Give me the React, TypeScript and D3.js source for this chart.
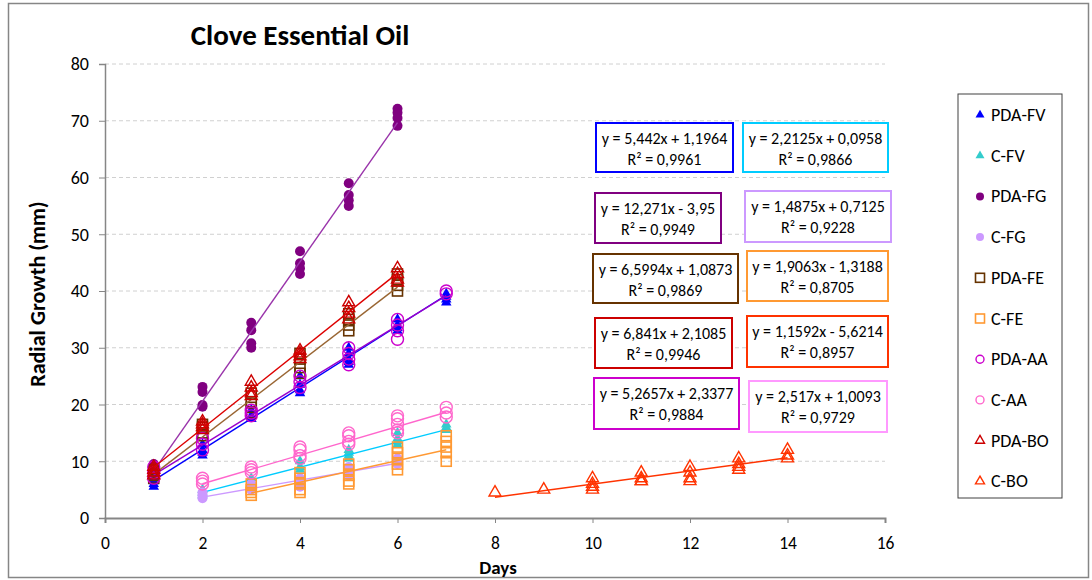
import React, { useRef, useEffect } from 'react';
import * as d3 from 'd3';

// series, in legend order
const seriesNames = ['PDA-FV', 'C-FV', 'PDA-FG', 'C-FG', 'PDA-FE', 'C-FE', 'PDA-AA', 'C-AA', 'PDA-BO', 'C-BO'];
const firstDays = [1, 2, 1, 2, 1, 3, 1, 2, 1, 8];

// replicate readings (mm) for each day, starting at firstDays
const pdaFv = [[5.5, 6, 6.5, 7], [11, 11.5, 12, 13], [17.5, 17.5, 18, 19], [22, 22.5, 23.5, 25], [27, 27.5, 28, 29, 30], [33, 33.5, 34, 35], [38, 38.5, 39, 39.5]];
const cFv = [[4, 4.5, 5], [6, 6.5, 7], [8.5, 9, 10], [10.5, 11, 11.5, 12], [13, 13.5, 14, 15], [15.5, 16, 16.5]];
const pdaFg = [[7.5, 8.5, 9, 9.5], [19.6, 19.9, 22.2, 23.1], [30, 30.8, 33.1, 34.4], [43, 44, 44.9, 47], [55, 56, 56.9, 59], [69.1, 70.5, 71.4, 72.1]];
const cFg = [[3.5, 4, 4.5], [5, 5.5, 6], [5.5, 6.5, 7], [7.5, 8, 9], [9.5, 10.5]];
const pdaFe = [[7, 7.5, 8, 8.5], [14.5, 15, 16, 16.5], [18.5, 19.5, 20.5, 22], [25.5, 26.5, 28, 29], [33, 34, 35, 36], [40, 41, 42, 43]];
const cFe = [[4, 4.5, 5, 6], [4.5, 5, 6, 7, 8], [6, 6.5, 7.5, 8.5, 9.5], [8.5, 9.5, 10.5, 11.5, 12.5], [10, 11.5, 12.5, 13.5, 14.5]];
const pdaAa = [[7, 8, 9], [12, 13, 14], [18, 18.5, 19], [23, 24, 25], [27, 28, 29, 30], [31.5, 33, 34, 35], [39.5, 40]];
const cAa = [[6, 6.5, 7], [8, 8.5, 9], [10.5, 11, 12, 12.5], [13, 13.5, 14.5, 15], [15, 15.5, 16.5, 17.5, 18], [17.8, 18.5, 19.5]];
const pdaBo = [[7.5, 8, 8.5, 9], [15.5, 16, 16.5, 17], [21.5, 22, 23, 24], [28, 28.5, 29, 29.5], [35, 36, 37, 38], [41.5, 42, 43, 44]];
const cBo = [[4.5], [5], [5, 5.5, 6, 7], [6.5, 6.5, 7, 8], [6.5, 7, 8, 9], [8.5, 9, 9.5, 10.5], [10.5, 11, 12]];
const seriesValues = [pdaFv, cFv, pdaFg, cFg, pdaFe, cFe, pdaAa, cAa, pdaBo, cBo];

// trendline equations as printed on the chart
const slopes = [5.442, 2.2125, 12.271, 1.4875, 6.5994, 1.9063, 5.2657, 2.517, 6.841, 1.1592];
const intercepts = [1.1964, 0.0958, -3.95, 0.7125, 1.0873, -1.3188, 2.3377, 1.0093, 2.1085, -5.6214];
const rSquared = ['0,9961', '0,9866', '0,9949', '0,9228', '0,9869', '0,8705', '0,9884', '0,9729', '0,9946', '0,8957'];

const xTicks = [0, 2, 4, 6, 8, 10, 12, 14, 16];
const yTicks = [0, 10, 20, 30, 40, 50, 60, 70, 80];

// marker / line / label-box styles per series
const styles = [
  { shape: 'triangle', filled: true, color: '#0000FF', line: '#0000FF', box: '#0000FF', size: 10.5 },
  { shape: 'triangle', filled: true, color: '#33CCCC', line: '#00CCFF', box: '#00CCFF', size: 10.5 },
  { shape: 'circle', filled: true, color: '#800080', line: '#9933AA', box: '#800080', size: 5 },
  { shape: 'circle', filled: true, color: '#CC99FF', line: '#CC99FF', box: '#CC99FF', size: 5 },
  { shape: 'square', filled: false, color: '#663300', line: '#996633', box: '#663300', size: 10 },
  { shape: 'square', filled: false, color: '#FF9933', line: '#FF9933', box: '#FF9933', size: 10 },
  { shape: 'circle', filled: false, color: '#CC00CC', line: '#9900CC', box: '#CC00CC', size: 6 },
  { shape: 'circle', filled: false, color: '#FF66CC', line: '#FF66CC', box: '#FF99FF', size: 6 },
  { shape: 'triangle', filled: false, color: '#CC0000', line: '#DD0000', box: '#CC0000', size: 12 },
  { shape: 'triangle', filled: false, color: '#FF3300', line: '#FF3300', box: '#FF3300', size: 12 },
];

// equation box placement [left, top, width, height]
const boxes = [
  [596, 123, 137, 49], [743, 123, 145, 49],
  [595, 193, 126, 50], [745, 191, 146, 51],
  [593, 254, 145, 49], [747, 251, 141, 50],
  [594, 378, 145, 51], [749, 381, 138, 51],
  [595, 318, 137, 50], [747, 316, 141, 51],
];

const FONT = "Carlito, Lato, 'Open Sans', sans-serif";

const fmt = (v: number) => String(Math.abs(v)).replace('.', ',');

const drawMarker = (g: any, shape: string, filled: boolean, color: string, size: number, cx: number, cy: number) => {
  if (shape === 'circle') {
    g.append('circle')
      .attr('cx', cx).attr('cy', cy).attr('r', size)
      .attr('fill', filled ? color : 'none')
      .attr('stroke', color).attr('stroke-width', filled ? 0 : 1.4);
  } else if (shape === 'square') {
    g.append('rect')
      .attr('x', cx - size / 2).attr('y', cy - size / 2)
      .attr('width', size).attr('height', size)
      .attr('fill', 'none').attr('stroke', color).attr('stroke-width', 1.6);
  } else {
    const area = (Math.sqrt(3) / 4) * size * size;
    g.append('path')
      .attr('transform', `translate(${cx},${cy})`)
      .attr('d', d3.symbol(d3.symbolTriangle, area)())
      .attr('fill', filled ? color : 'none')
      .attr('stroke', color).attr('stroke-width', filled ? 0 : 1.4);
  }
};

const App = () => {
  const svgRef = useRef<SVGSVGElement>(null);

  useEffect(() => {
    document.body.style.margin = '0';
    if (!svgRef.current) return;
    const svg = d3.select(svgRef.current);
    svg.selectAll('*').remove();

    const x = d3.scaleLinear().domain([0, 16]).range([105, 885]);
    const y = d3.scaleLinear().domain([0, 80]).range([518, 64]);

    // outer frame
    svg.append('rect')
      .attr('x', 8.5).attr('y', 3.5).attr('width', 1080).attr('height', 574)
      .attr('fill', 'white').attr('stroke', '#868686').attr('stroke-width', 1.5);

    // title
    svg.append('text')
      .attr('x', 300).attr('y', 45)
      .attr('text-anchor', 'middle')
      .attr('font-family', FONT).attr('font-weight', 'bold').attr('font-size', 29)
      .text('Clove Essential Oil');

    // grid lines
    svg.append('g')
      .selectAll('line')
      .data(yTicks.filter(t => t > 0))
      .enter()
      .append('line')
      .attr('x1', x(0)).attr('x2', x(16))
      .attr('y1', d => y(d)).attr('y2', d => y(d))
      .attr('stroke', '#d0d0d0').attr('stroke-dasharray', '4,3');

    // y axis
    const yAxis = svg.append('g')
      .attr('transform', `translate(${x(0)},0)`)
      .call(d3.axisLeft(y).tickValues(yTicks).tickSize(6).tickPadding(10));
    yAxis.select('.domain').attr('stroke', '#868686').attr('stroke-width', 1.5);
    yAxis.selectAll('line').attr('stroke', '#868686');
    yAxis.selectAll('text')
      .attr('font-family', FONT).attr('font-size', 18).attr('fill', '#000');

    // x axis
    const xAxis = svg.append('g')
      .attr('transform', `translate(0,${y(0)})`)
      .call(d3.axisBottom(x).tickValues(xTicks).tickSize(5).tickPadding(14));
    xAxis.select('.domain').attr('stroke', '#868686').attr('stroke-width', 2);
    xAxis.selectAll('line').attr('stroke', '#868686');
    xAxis.selectAll('text')
      .attr('font-family', FONT).attr('font-size', 17.5).attr('fill', '#000');

    // axis titles
    svg.append('text')
      .attr('transform', 'translate(45,294) rotate(-90)')
      .attr('text-anchor', 'middle')
      .attr('font-family', FONT).attr('font-weight', 'bold').attr('font-size', 22)
      .text('Radial Growth (mm)');
    svg.append('text')
      .attr('x', 498).attr('y', 574)
      .attr('text-anchor', 'middle')
      .attr('font-family', FONT).attr('font-weight', 'bold').attr('font-size', 19)
      .text('Days');

    // series: markers then trendline
    seriesValues.forEach((days, i) => {
      const st = styles[i];
      const g = svg.append('g');
      days.forEach((reps, j) => {
        const day = firstDays[i] + j;
        reps.forEach(v => drawMarker(g, st.shape, st.filled, st.color, st.size, x(day), y(v)));
      });
      const x0 = firstDays[i];
      const x1 = firstDays[i] + days.length - 1;
      const line = d3.line<number>()
        .x(d => x(d))
        .y(d => y(slopes[i] * d + intercepts[i]));
      g.append('path')
        .datum([x0, x1])
        .attr('fill', 'none')
        .attr('stroke', st.line)
        .attr('stroke-width', 1.4)
        .attr('d', line);
    });

    // equation boxes
    boxes.forEach(([bx, by, bw, bh], i) => {
      const g = svg.append('g');
      g.append('rect')
        .attr('x', bx).attr('y', by).attr('width', bw).attr('height', bh)
        .attr('fill', 'white').attr('stroke', styles[i].box).attr('stroke-width', 2);
      const sign = intercepts[i] < 0 ? '-' : '+';
      g.append('text')
        .attr('x', bx + bw / 2).attr('y', by + 21)
        .attr('text-anchor', 'middle')
        .attr('font-family', FONT).attr('font-size', 16)
        .text(`y = ${fmt(slopes[i])}x ${sign} ${fmt(intercepts[i])}`);
      g.append('text')
        .attr('x', bx + bw / 2).attr('y', by + 42)
        .attr('text-anchor', 'middle')
        .attr('font-family', FONT).attr('font-size', 16)
        .text(`R² = ${rSquared[i]}`);
    });

    // legend
    const legend = svg.append('g');
    legend.append('rect')
      .attr('x', 958).attr('y', 94).attr('width', 104).attr('height', 404)
      .attr('fill', 'white').attr('stroke', '#404040').attr('stroke-width', 1);
    seriesNames.forEach((name, i) => {
      const cy = 115 + i * 40.7;
      const st = styles[i];
      const ls = st.shape === 'circle' ? 4 : 9;
      drawMarker(legend, st.shape, st.filled, st.color, ls, 980, cy);
      legend.append('text')
        .attr('x', 991).attr('y', cy + 6)
        .attr('font-family', FONT).attr('font-size', 18)
        .text(name);
    });
  }, []);

  return <svg ref={svgRef} width={1092} height={580} style={{ display: 'block' }}></svg>;
};

export default App;
